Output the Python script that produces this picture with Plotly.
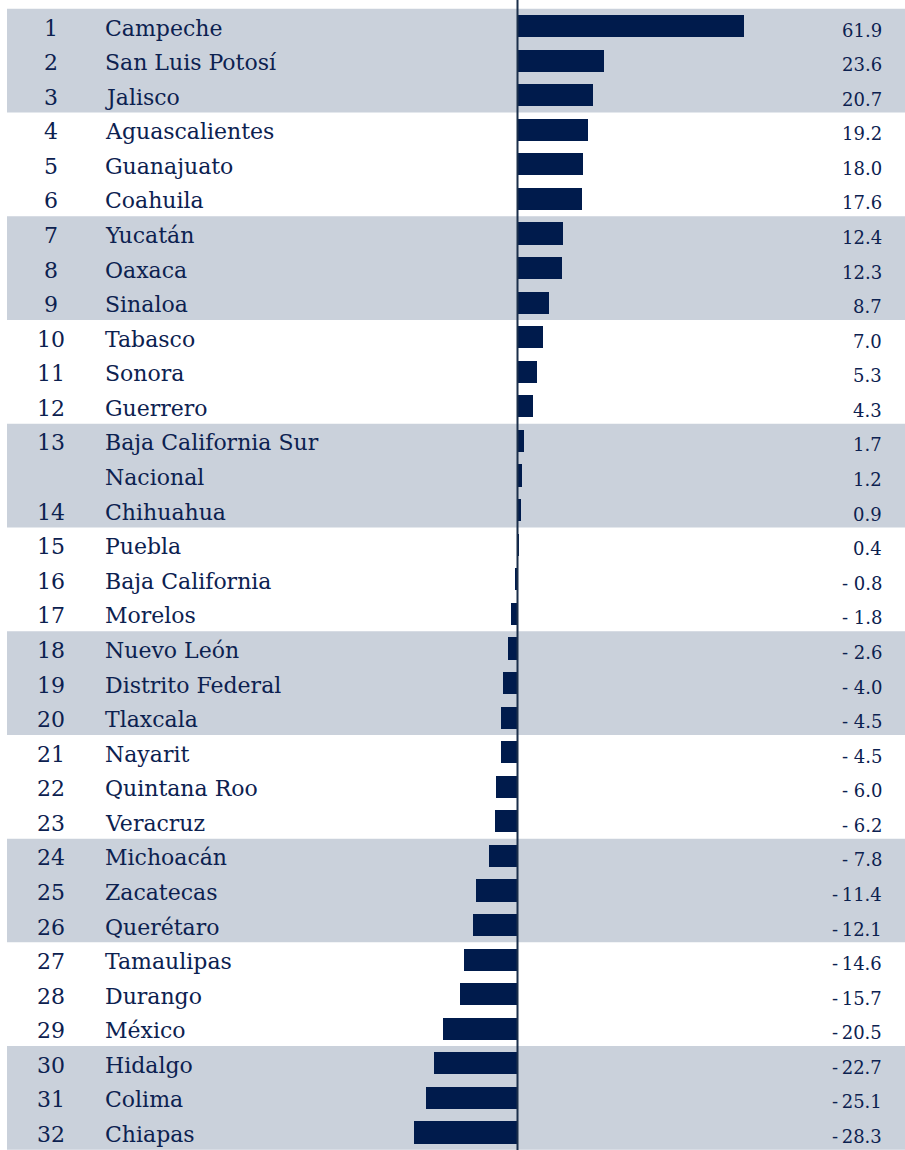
import plotly.graph_objects as go

# Ranking by state (Nacional shown without a rank, between 13 and 14)
ranks = ["1", "2", "3", "4", "5", "6", "7", "8", "9", "10", "11", "12", "13", "",
         "14", "15", "16", "17", "18", "19", "20", "21", "22", "23", "24", "25",
         "26", "27", "28", "29", "30", "31", "32"]
states = ["Campeche", "San Luis Potosí", "Jalisco", "Aguascalientes", "Guanajuato",
          "Coahuila", "Yucatán", "Oaxaca", "Sinaloa", "Tabasco", "Sonora", "Guerrero",
          "Baja California Sur", "Nacional", "Chihuahua", "Puebla", "Baja California",
          "Morelos", "Nuevo León", "Distrito Federal", "Tlaxcala", "Nayarit",
          "Quintana Roo", "Veracruz", "Michoacán", "Zacatecas", "Querétaro",
          "Tamaulipas", "Durango", "México", "Hidalgo", "Colima", "Chiapas"]
values = [61.9, 23.6, 20.7, 19.2, 18.0, 17.6, 12.4, 12.3, 8.7, 7.0, 5.3, 4.3, 1.7,
          1.2, 0.9, 0.4, -0.8, -1.8, -2.6, -4.0, -4.5, -4.5, -6.0, -6.2, -7.8,
          -11.4, -12.1, -14.6, -15.7, -20.5, -22.7, -25.1, -28.3]
# Shaded row groups (first and last row index of each band)
bands = [(0, 2), (6, 8), (12, 14), (18, 20), (24, 26), (30, 32)]

NAVY = "#001b4c"
TEXT = "#0c2150"
BAND = "#cad1db"
W, H = 905, 1150


def fmt(v):
    if v < 0:
        sep = " " if abs(v) < 10 else "\u2009"
        return "-" + sep + f"{abs(v):.1f}"
    return f"{v:.1f}"


idx = list(range(len(states)))

fig = go.Figure()
fig.add_trace(go.Bar(
    x=values, y=idx, orientation="h", width=0.64,
    marker=dict(color=NAVY, line=dict(width=0)),
    hoverinfo="skip",
))

shapes = []
for a, b in bands:
    shapes.append(dict(type="rect", xref="paper", yref="y", x0=7 / W, x1=1,
                       y0=a - 0.5, y1=b + 0.5, fillcolor=BAND,
                       line=dict(width=0), layer="below"))
# zero line across the full height
shapes.append(dict(type="line", xref="x", yref="paper", x0=0, x1=0, y0=0, y1=1,
                   line=dict(color="#1b2f4a", width=2), layer="above"))

annotations = []
for i, (r, s, v) in enumerate(zip(ranks, states, values)):
    if r:
        annotations.append(dict(text=r, x=51 / W, xref="paper", y=i, yref="y",
                                xanchor="center", yanchor="middle", showarrow=False,
                                yshift=-2,
                                font=dict(family="DejaVu Serif", size=22, color=TEXT)))
    annotations.append(dict(text=s, x=103 / W, xref="paper", y=i, yref="y",
                            xanchor="left", yanchor="middle", showarrow=False,
                            yshift=-2,
                            font=dict(family="DejaVu Serif", size=22, color=TEXT)))
    annotations.append(dict(text=fmt(v), x=884 / W, xref="paper", y=i, yref="y",
                            xanchor="right", yanchor="middle", showarrow=False,
                            yshift=-4,
                            font=dict(family="DejaVu Serif", size=18, color=TEXT)))

pitch = 34.58
top_center = 26.0
y_top = -top_center / pitch
y_bot = (H - top_center) / pitch

scale = 3.658
zero_px = 517.5

fig.update_layout(
    width=W, height=H,
    margin=dict(l=0, r=0, t=0, b=0),
    paper_bgcolor="white", plot_bgcolor="rgba(0,0,0,0)",
    showlegend=False,
    bargap=0,
    xaxis=dict(range=[-zero_px / scale, (W - zero_px) / scale], visible=False,
               fixedrange=True),
    yaxis=dict(range=[y_bot, y_top], visible=False, fixedrange=True),
    shapes=shapes,
    annotations=annotations,
)

fig.write_html("out.html")
